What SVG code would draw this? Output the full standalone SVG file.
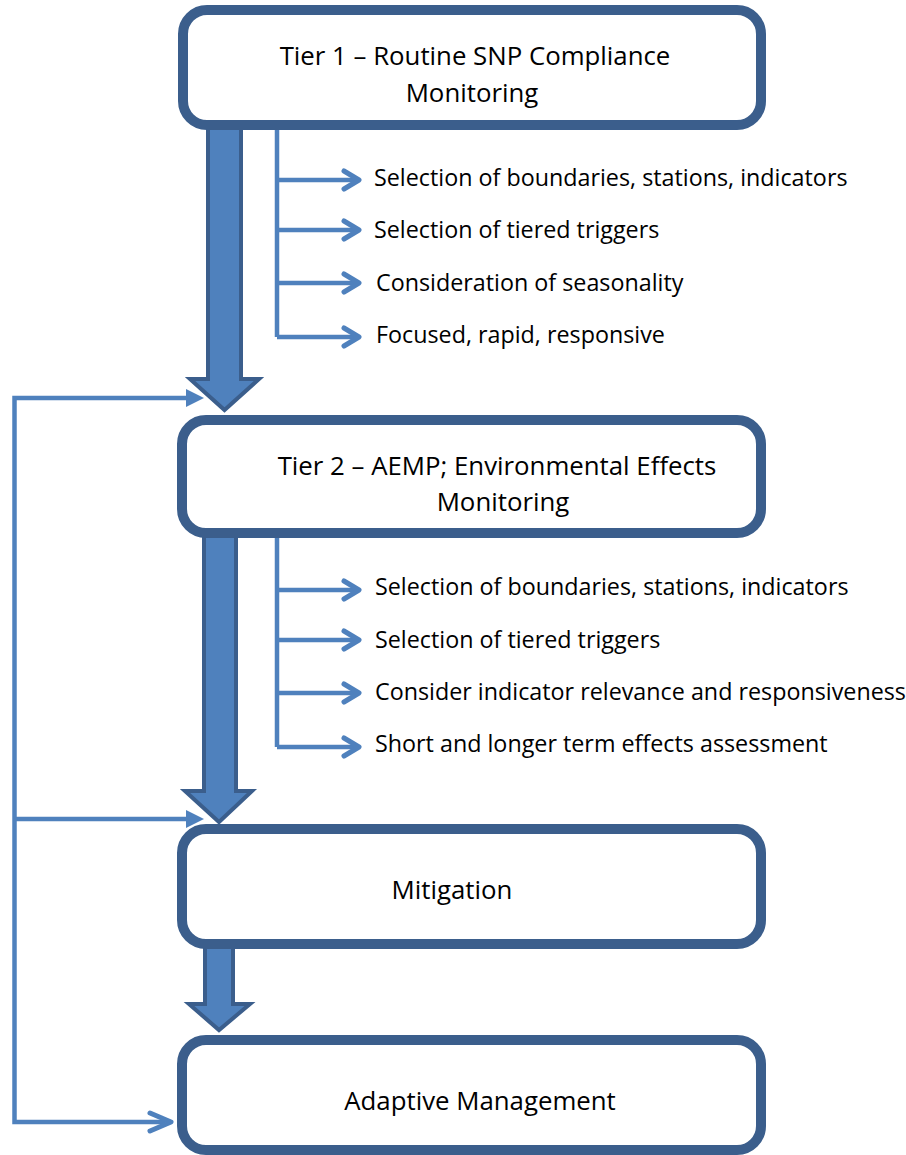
<svg xmlns="http://www.w3.org/2000/svg" width="906" height="1155" viewBox="0 0 906 1155">
<style>
.box{fill:#fff;stroke:#3B5E8C;stroke-width:10}
.big{fill:#4F81BD;stroke:#3B5E8C;stroke-width:4;stroke-linejoin:miter}
.ln{fill:none;stroke:#4F81BD;stroke-width:4.5}
.chev{fill:none;stroke:#4F81BD;stroke-width:5;stroke-linecap:round;stroke-linejoin:round}
.tri{fill:#4F81BD}
.t{font-family:"Open Sans",Lato,sans-serif;font-size:23.3px;fill:#000}
.h{font-family:"Open Sans",Lato,sans-serif;font-size:25.8px;fill:#000;text-anchor:middle}
</style>
<rect width="906" height="1155" fill="#fff"/>
<g id="connectors">
<polygon class="big" points="208,128 241,128 241,379 259,379 224.5,410 190,379 208,379"/>
<polygon class="big" points="204,536 236,536 236,791 252,791 219,822 185,791 204,791"/>
<polygon class="big" points="205,946 233,946 233,1004 250,1004 219,1030 189,1004 205,1004"/>
<path class="ln" d="M277,125 V337 M277,180 H358 M277,230 H358 M277,283 H358 M277,337 H358"/>
<path class="chev" d="M344,171 L359,180 L344,189 M344,221 L359,230 L344,239 M344,274 L359,283 L344,292 M344,328 L359,337 L344,346"/>
<path class="ln" d="M277,534 V747 M277,590 H358 M277,640 H358 M277,693 H358 M277,747 H358"/>
<path class="chev" d="M344,581 L359,590 L344,599 M344,631 L359,640 L344,649 M344,684 L359,693 L344,702 M344,738 L359,747 L344,756"/>
<path class="ln" d="M189,398 H14.5 V1122 H165 M14.5,819 H189"/>
<polygon class="tri" points="186,389 204,398 186,407"/>
<polygon class="tri" points="186,810 204,819 186,828"/>
<path class="chev" d="M150,1113 L171,1122 L150,1131"/>
</g>
<g id="tier1">
<rect class="box" x="183" y="10" width="578" height="115" rx="24"/>
<text class="h" x="475" y="65">Tier 1 – Routine SNP Compliance</text>
<text class="h" x="472" y="102">Monitoring</text>
</g>
<g id="tier1-items">
<text class="t" x="374" y="186">Selection of boundaries, stations, indicators</text>
<text class="t" x="374" y="238">Selection of tiered triggers</text>
<text class="t" x="376" y="291">Consideration of seasonality</text>
<text class="t" x="376" y="343">Focused, rapid, responsive</text>
</g>
<g id="tier2">
<rect class="box" x="182" y="420" width="579" height="113" rx="24"/>
<text class="h" x="497" y="475">Tier 2 – AEMP; Environmental Effects</text>
<text class="h" x="503" y="511">Monitoring</text>
</g>
<g id="tier2-items">
<text class="t" x="375" y="595">Selection of boundaries, stations, indicators</text>
<text class="t" x="375" y="648">Selection of tiered triggers</text>
<text class="t" x="375" y="700">Consider indicator relevance and responsiveness</text>
<text class="t" x="375" y="752">Short and longer term effects assessment</text>
</g>
<g id="mitigation">
<rect class="box" x="182" y="829" width="579" height="115" rx="24"/>
<text class="h" x="452" y="899">Mitigation</text>
</g>
<g id="adaptive">
<rect class="box" x="182" y="1040" width="579" height="110" rx="24"/>
<text class="h" x="480" y="1110">Adaptive Management</text>
</g>
</svg>
